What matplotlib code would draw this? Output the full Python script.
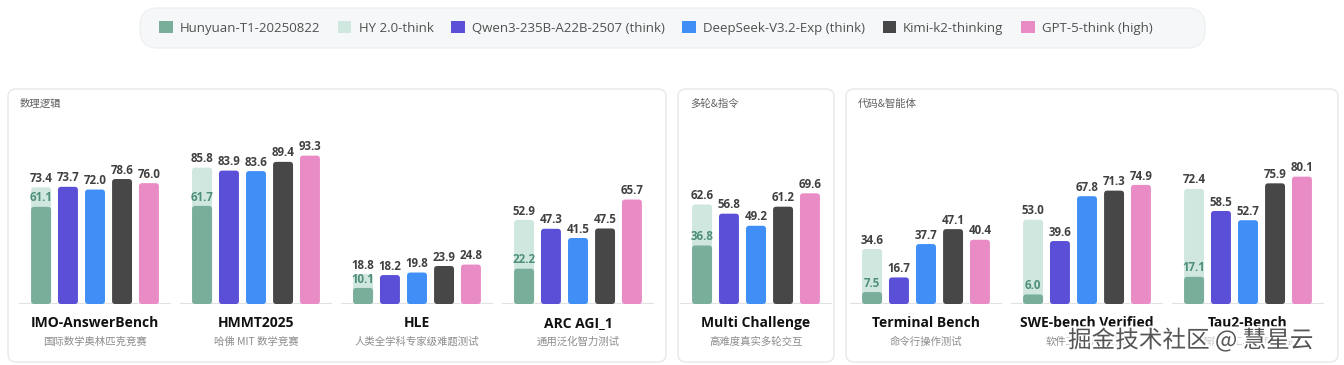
import matplotlib.pyplot as plt
import matplotlib.patheffects as pe
from matplotlib.patches import FancyBboxPatch, Patch

models = ['Hunyuan-T1-20250822', 'HY 2.0-think', 'Qwen3-235B-A22B-2507 (think)',
          'DeepSeek-V3.2-Exp (think)', 'Kimi-k2-thinking', 'GPT-5-think (high)']
colors = ['#78ae9a', '#cfe7df', '#5a4fd6', '#3f8ff6', '#474747', '#e98bc5']

panel_titles = ['数理逻辑', '多轮&指令', '代码&智能体']
bench_names = [
    ['IMO-AnswerBench', 'HMMT2025', 'HLE', 'ARC AGI_1'],
    ['Multi Challenge'],
    ['Terminal Bench', 'SWE-bench Verified', 'Tau2-Bench'],
]
bench_subs = [
    ['国际数学奥林匹克竞赛', '哈佛 MIT 数学竞赛', '人类全学科专家级难题测试', '通用泛化智力测试'],
    ['高难度真实多轮交互'],
    ['命令行操作测试', '软件工程能力测试', '智能体工具调用测试'],
]
hunyuan_t1 = [[61.1, 61.7, 10.1, 22.2], [36.8], [7.5, 6.0, 17.1]]
hy2_think = [[73.4, 85.8, 18.8, 52.9], [62.6], [34.6, 53.0, 72.4]]
qwen3 = [[73.7, 83.9, 18.2, 47.3], [56.8], [16.7, 39.6, 58.5]]
deepseek = [[72.0, 83.6, 19.8, 41.5], [49.2], [37.7, 67.8, 52.7]]
kimi = [[78.6, 89.4, 23.9, 47.5], [61.2], [47.1, 71.3, 75.9]]
gpt5 = [[76.0, 93.3, 24.8, 65.7], [69.6], [40.4, 74.9, 80.1]]

W, H = 1344, 365
GROUP_PX = 161
BASE_PX = 304
PX_PER_UNIT = 1.59
YMAX = 110
OFFSETS = [-0.335, -0.168, 0.0, 0.168, 0.335]
BAR_W = 0.124

LATIN = ['Open Sans', 'Noto Sans CJK SC', 'DejaVu Sans']
CJK = ['Noto Sans CJK SC', 'DejaVu Sans']


def rounded_bars(ax, bars, color, zorder):
    aspect = GROUP_PX / PX_PER_UNIT
    for b in bars:
        x, y = b.get_x(), b.get_y()
        w, h = b.get_width(), b.get_height()
        b.set_visible(False)
        p = FancyBboxPatch((x, y), w, h, boxstyle='round,pad=0,rounding_size=0.02',
                           mutation_aspect=aspect, fc=color, ec='none', zorder=zorder)
        ax.add_patch(p)


def bar_label(ax, x, v, color='#404040'):
    ax.text(x, v + 1.5, f'{v:.1f}', ha='center', va='bottom', fontsize=8.3,
            fontweight='bold', color=color, family=LATIN, clip_on=False, zorder=5)


def main():
    fig = plt.figure(figsize=(W / 100, H / 100), dpi=100)
    fig.patch.set_facecolor('white')

    bg = fig.add_axes([0, 0, 1, 1], zorder=-5)
    bg.set_xlim(0, W)
    bg.set_ylim(H, 0)
    bg.axis('off')
    # legend pill and panel cards
    bg.add_patch(FancyBboxPatch((140, 8), 1065, 40, boxstyle='round,pad=0,rounding_size=18',
                                fc='#f5f7f8', ec='#eef0f1', lw=1))
    panels = [(8, 658), (678, 156), (846, 492)]
    for (x0, w), title in zip(panels, panel_titles):
        bg.add_patch(FancyBboxPatch((x0, 89), w, 273, boxstyle='round,pad=0,rounding_size=8',
                                    fc='white', ec='#e6e8ea', lw=1))
        bg.text(x0 + 12, 104, title, fontsize=7.5, color='#606060', va='center',
                family=CJK)

    axes_left = [14.5, 675.5, 845.5]
    series = [qwen3, deepseek, kimi, gpt5]
    for p in range(3):
        n = len(bench_names[p])
        ax = fig.add_axes([axes_left[p] / W, (H - BASE_PX) / H,
                           n * GROUP_PX / W, YMAX * PX_PER_UNIT / H])
        ax.set_xlim(-0.5, n - 0.5)
        ax.set_ylim(0, YMAX)
        ax.axis('off')
        xs = list(range(n))
        for i in xs:
            ax.hlines(0, i - 0.47, i + 0.47, color='#dfe1e3', lw=1.5, zorder=1)
            ax.text(i, -12, bench_names[p][i], ha='center', va='center', fontsize=10,
                    fontweight='bold', color='#111111', family=LATIN, clip_on=False)
            ax.text(i, -23.5, bench_subs[p][i], ha='center', va='center', fontsize=7.5,
                    color='#8c8c8c', family=CJK, clip_on=False)

        hy = hy2_think[p]
        t1 = hunyuan_t1[p]
        b = ax.bar([x + OFFSETS[0] for x in xs], hy, BAR_W)
        rounded_bars(ax, b, colors[1], 2)
        b = ax.bar([x + OFFSETS[0] for x in xs], t1, BAR_W)
        rounded_bars(ax, b, colors[0], 3)
        for i in xs:
            bar_label(ax, i + OFFSETS[0], hy[i])
            bar_label(ax, i + OFFSETS[0], t1[i], color='#4f8f7a')
        for k, s in enumerate(series):
            vals = s[p]
            b = ax.bar([x + OFFSETS[k + 1] for x in xs], vals, BAR_W)
            rounded_bars(ax, b, colors[k + 2], 2)
            for i in xs:
                bar_label(ax, i + OFFSETS[k + 1], vals[i])

    handles = [Patch(fc=c, ec='none') for c in colors]
    leg = fig.legend(handles, models, loc='center', bbox_to_anchor=(656 / W, 1 - 28 / H),
                     ncol=6, frameon=False, handlelength=1.0, handleheight=1.0,
                     handletextpad=0.55, columnspacing=1.35,
                     prop={'family': LATIN, 'size': 9.5})
    for t in leg.get_texts():
        t.set_color('#505050')

    fig.text(1068 / W, 1 - 340 / H, '掘金技术社区 @ 慧星云', fontsize=17, color='#555555',
             va='center', ha='left', family=CJK, zorder=10,
             bbox=dict(boxstyle='square,pad=0.05', fc='white', ec='none', alpha=0.55),
             path_effects=[pe.withStroke(linewidth=3, foreground='white')])

    fig.savefig('out.png', dpi=100, facecolor='white')


if __name__ == '__main__':
    main()
